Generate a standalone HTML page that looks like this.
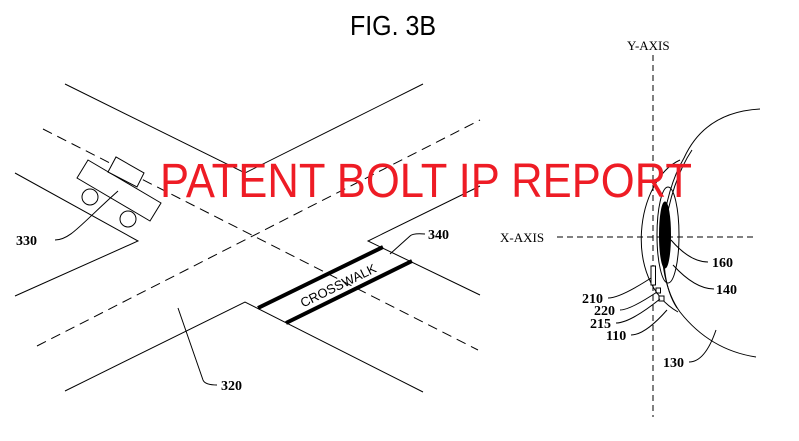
<!DOCTYPE html>
<html><head><meta charset="utf-8"><style>
html,body{margin:0;padding:0;background:#fff;width:799px;height:441px;overflow:hidden}
</style></head><body>
<svg width="799" height="441" viewBox="0 0 799 441" xmlns="http://www.w3.org/2000/svg" font-family="Liberation Serif, serif">
<g fill="none" stroke="#000" stroke-width="1">
<polyline points="65,84 245,173 423,84"/>
<polyline points="15,173 138,241 15,296"/>
<polyline points="65,391 245,302 423,392"/>
<polyline points="480,186 368,241 480,295"/>
<line x1="43" y1="129" x2="478" y2="350" stroke-dasharray="10,6"/>
<line x1="37" y1="346" x2="480" y2="120" stroke-dasharray="10,6"/>
<polygon points="77,178 88,160 161,203 150,221" fill="#fff"/>
<polygon points="108,172 116,157 144,173 137,187" fill="#fff"/>
<circle cx="90" cy="197" r="8" fill="#fff"/>
<circle cx="128" cy="219" r="8" fill="#fff"/>
<path d="M55,240 C70,240 80,225 118,191"/>
<line x1="258" y1="308" x2="383" y2="247" stroke-width="4"/>
<line x1="286" y1="323" x2="412" y2="261" stroke-width="4"/>
<path d="M390,254 L410,236 Q413,233 425,234"/>
<path d="M178,308 L203,380 Q205,385 217,385"/>
<line x1="653" y1="55" x2="653" y2="417" stroke-dasharray="6,4"/>
<line x1="557" y1="237" x2="753" y2="237" stroke-dasharray="6,4"/>
<path d="M760,109 Q705,112 684,158 C662,195 650,270 680,312 Q710,350 756,357"/>
<path d="M692,150 C665,190 652,270 677,308"/>
<path d="M680,160 C636,180 622,280 678,312"/>
<ellipse cx="668" cy="235" rx="11" ry="48"/>
<ellipse cx="665" cy="235" rx="5.5" ry="33" fill="#000"/>
<rect x="651" y="266" width="4.5" height="19" fill="#fff"/>
<rect x="656" y="288" width="4.5" height="5" fill="#fff"/>
<rect x="659" y="296" width="5" height="5" fill="#fff"/>
<path d="M671,240 Q690,262 708,262"/>
<path d="M673,265 Q695,289 714,289"/>
<path d="M651,278 Q620,298 608,298"/>
<path d="M657,292 Q630,310 620,310"/>
<path d="M660,299 Q630,323 616,323"/>
<path d="M667,310 Q645,335 631,335"/>
<path d="M716,330 Q705,362 689,362"/>
</g>
<g font-size="14" font-weight="bold" fill="#000">
<text x="16" y="245">330</text>
<text x="428" y="239">340</text>
<text x="221" y="390">320</text>
<text x="712" y="267">160</text>
<text x="716" y="294">140</text>
<text x="582" y="303">210</text>
<text x="594" y="315">220</text>
<text x="590" y="328">215</text>
<text x="606" y="340">110</text>
<text x="663" y="367">130</text>
</g>
<g font-size="13" fill="#000">
<text x="627" y="50">Y-AXIS</text>
<text x="500" y="242">X-AXIS</text>
</g>
<text x="338" y="290" transform="rotate(-26 338 285)" text-anchor="middle" font-family="Liberation Sans, sans-serif" font-size="13" fill="#000">CROSSWALK</text>
<text x="350" y="35" textLength="86" lengthAdjust="spacingAndGlyphs" font-family="Liberation Sans, sans-serif" font-size="28" fill="#000">FIG. 3B</text>
<text x="160" y="197" textLength="532" lengthAdjust="spacingAndGlyphs" font-family="Liberation Sans, sans-serif" font-size="48" fill="#ee1c25">PATENT BOLT IP REPORT</text>
</svg>
</body></html>
